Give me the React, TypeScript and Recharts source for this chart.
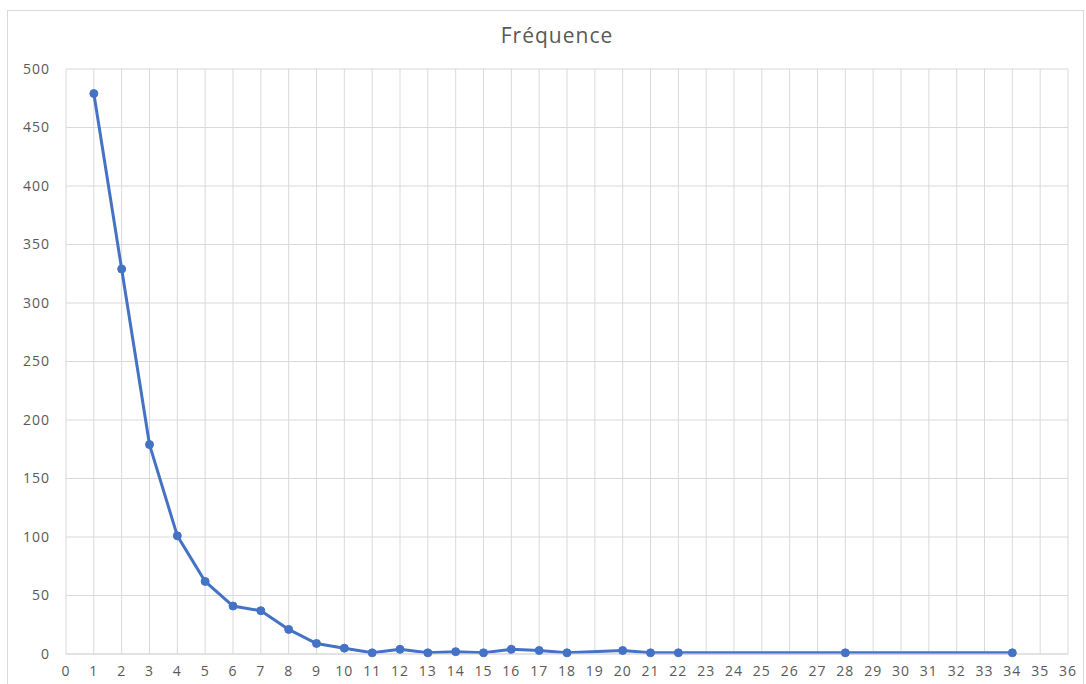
import React from "react";
import { LineChart, Line, XAxis, YAxis, CartesianGrid } from "recharts";

const xValues = [1, 2, 3, 4, 5, 6, 7, 8, 9, 10, 11, 12, 13, 14, 15, 16, 17, 18, 20, 21, 22, 28, 34];
const frequencies = [479, 329, 179, 101, 62, 41, 37, 21, 9, 5, 1, 4, 1, 2, 1, 4, 3, 1, 3, 1, 1, 1, 1];
const xTicks = Array.from({ length: 37 }, (_, i) => i);
const yTicks = [0, 50, 100, 150, 200, 250, 300, 350, 400, 450, 500];
const title = "Fréquence";

const data = xValues.map((x, i) => ({ x, y: frequencies[i] }));

const FONT = "'Open Sans', 'Liberation Sans', sans-serif";

export default function App() {
  return (
    <div style={{ position: "absolute", left: 0, top: 0, width: 1086, height: 684, background: "#fff", overflow: "hidden" }}>
      <div style={{ position: "absolute", left: 7, top: 10, width: 1077, height: 690, border: "1px solid #d9d9d9", boxSizing: "border-box" }} />
      <div style={{ position: "absolute", left: 0, top: 21, width: 1114, textAlign: "center", fontFamily: FONT, fontSize: 21, letterSpacing: 1, color: "#595959" }}>{title}</div>
      <LineChart width={1086} height={684} data={data} margin={{ top: 69, right: 18, bottom: 0, left: 16 }}>
        <CartesianGrid stroke="#d9d9d9" strokeWidth={1} />
        <XAxis
          dataKey="x"
          type="number"
          domain={[0, 36]}
          ticks={xTicks}
          interval={0}
          height={30}
          axisLine={{ stroke: "#d9d9d9" }}
          tickLine={false}
          tickSize={0}
          tickMargin={12}
          tick={{ fill: "#595959", fontSize: 14, fontFamily: FONT, letterSpacing: 1 }}
        />
        <YAxis
          type="number"
          domain={[0, 500]}
          ticks={yTicks}
          interval={0}
          width={50}
          axisLine={false}
          tickLine={false}
          tickSize={0}
          tickMargin={16}
          tick={{ fill: "#595959", fontSize: 14, fontFamily: FONT, letterSpacing: 1 }}
        />
        <Line
          dataKey="y"
          type="linear"
          stroke="#4472C4"
          strokeWidth={3}
          dot={{ r: 4, fill: "#4472C4", stroke: "#4472C4", strokeWidth: 1 }}
          activeDot={false}
          isAnimationActive={false}
        />
      </LineChart>
    </div>
  );
}
